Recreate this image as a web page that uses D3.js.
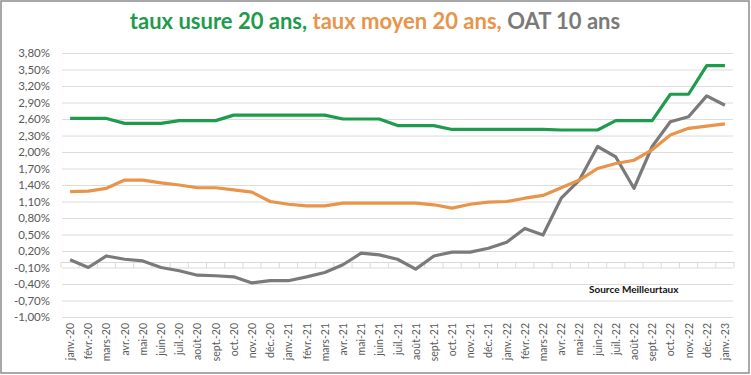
<!DOCTYPE html>
<meta charset="utf-8">
<head>
  <title>Taux usure, taux moyen, OAT</title>
</head>

<style>
body {
  margin: 0;
  font-family: Lato, "Open Sans", sans-serif;
  background: #fff;
}
</style>

<body>
  <div id="content">
    <svg width="751" height="375"></svg>
  </div>

  <script src="https://cdnjs.cloudflare.com/ajax/libs/d3/7.8.5/d3.min.js"></script>

  <script>
var months = ['janv.-20','févr.-20','mars-20','avr.-20','mai-20','juin-20','juil.-20','août-20','sept.-20','oct.-20','nov.-20','déc.-20',
  'janv.-21','févr.-21','mars-21','avr.-21','mai-21','juin-21','juil.-21','août-21','sept.-21','oct.-21','nov.-21','déc.-21',
  'janv.-22','févr.-22','mars-22','avr.-22','mai-22','juin-22','juil.-22','août-22','sept.-22','oct.-22','nov.-22','déc.-22',
  'janv.-23'];

var tauxUsure = [2.61,2.61,2.61,2.52,2.52,2.52,2.57,2.57,2.57,2.67,2.67,2.67,
  2.67,2.67,2.67,2.60,2.60,2.60,2.48,2.48,2.48,2.41,2.41,2.41,
  2.41,2.41,2.41,2.40,2.40,2.40,2.57,2.57,2.57,3.05,3.05,3.57,
  3.57];

var tauxMoyen = [1.28,1.29,1.34,1.49,1.49,1.44,1.40,1.35,1.35,1.31,1.27,1.10,
  1.05,1.02,1.02,1.07,1.07,1.07,1.07,1.07,1.04,0.98,1.05,1.09,
  1.10,1.16,1.21,1.35,1.49,1.70,1.79,1.85,2.04,2.31,2.43,2.47,
  2.51];

var oat = [0.04,-0.10,0.11,0.05,0.02,-0.10,-0.16,-0.24,-0.25,-0.27,-0.38,-0.34,
  -0.34,-0.27,-0.19,-0.05,0.16,0.13,0.05,-0.13,0.11,0.18,0.18,0.25,
  0.36,0.61,0.49,1.16,1.49,2.10,1.91,1.34,2.10,2.55,2.64,3.02,
  2.85];

var yTicks = [-1.0,-0.7,-0.4,-0.1,0.2,0.5,0.8,1.1,1.4,1.7,2.0,2.3,2.6,2.9,3.2,3.5,3.8];

var green = '#1f9b4d', orange = '#e8944a', grey = '#7a7a7a';

var svg = d3.select('#content svg');

// frame
svg.append('rect')
  .attr('x', 1).attr('y', 1)
  .attr('width', 748).attr('height', 372)
  .attr('fill', '#fff')
  .attr('stroke', '#8c8c8c')
  .attr('stroke-width', 1.5);

var x = d3.scaleBand()
  .domain(months)
  .range([61, 734]);

var y = d3.scaleLinear()
  .domain([-1.0, 3.8])
  .range([317, 53]);

var fmt = function(d) { return d3.format('.2f')(d).replace('.', ',').replace('−', '-') + '%'; };

// gridlines + y labels
var yAxis = svg.append('g')
  .attr('transform', 'translate(62,0)')
  .call(d3.axisLeft(y).tickValues(yTicks).tickSize(-671).tickFormat(fmt).tickPadding(12));
yAxis.select('.domain').remove();
yAxis.selectAll('line').attr('stroke', '#dcdcdc');
yAxis.selectAll('text')
  .attr('fill', '#595959')
  .style('font-size', '11.5px')
  .style('font-family', 'Lato, sans-serif');

// category axis at 0
var xAxis = svg.append('g')
  .attr('transform', 'translate(0,' + y(0) + ')')
  .call(d3.axisBottom(x).tickSize(0).tickFormat(''));
xAxis.select('.domain').attr('stroke', '#d9d9d9');

svg.append('g')
  .selectAll('line')
  .data(d3.range(months.length + 1))
  .join('line')
  .attr('x1', function(i) { return x.range()[0] + i * x.step(); })
  .attr('x2', function(i) { return x.range()[0] + i * x.step(); })
  .attr('y1', y(0))
  .attr('y2', y(0) + 6)
  .attr('stroke', '#d9d9d9');

// month labels at the bottom
svg.append('g')
  .selectAll('text')
  .data(months)
  .join('text')
  .attr('transform', function(d) { return 'translate(' + (x(d) + x.bandwidth() / 2 + 4) + ',323) rotate(-90)'; })
  .attr('text-anchor', 'end')
  .attr('fill', '#5a5a5a')
  .style('font-size', '10.5px')
  .text(function(d) { return d; });

var line = d3.line()
  .x(function(d, i) { return x(months[i]) + x.bandwidth() / 2; })
  .y(function(d) { return y(d); });

[[oat, grey], [tauxMoyen, orange], [tauxUsure, green]].forEach(function(s) {
  svg.append('path')
    .datum(s[0])
    .attr('d', line)
    .attr('fill', 'none')
    .attr('stroke', s[1])
    .attr('stroke-width', 3.2)
    .attr('stroke-linejoin', 'round');
});

// source
svg.append('text')
  .attr('x', 589).attr('y', 293)
  .attr('fill', '#111')
  .style('font-size', '10px')
  .style('font-weight', 'bold')
  .text('Source Meilleurtaux');

// title
var title = svg.append('text')
  .attr('x', 375).attr('y', 29)
  .attr('text-anchor', 'middle')
  .style('font-size', '22px')
  .style('font-weight', 'bold');
title.append('tspan').attr('fill', green).text('taux usure 20 ans, ');
title.append('tspan').attr('fill', orange).text('taux moyen 20 ans, ');
title.append('tspan').attr('fill', grey).text('OAT 10 ans');
  </script>
</body>
</html>
